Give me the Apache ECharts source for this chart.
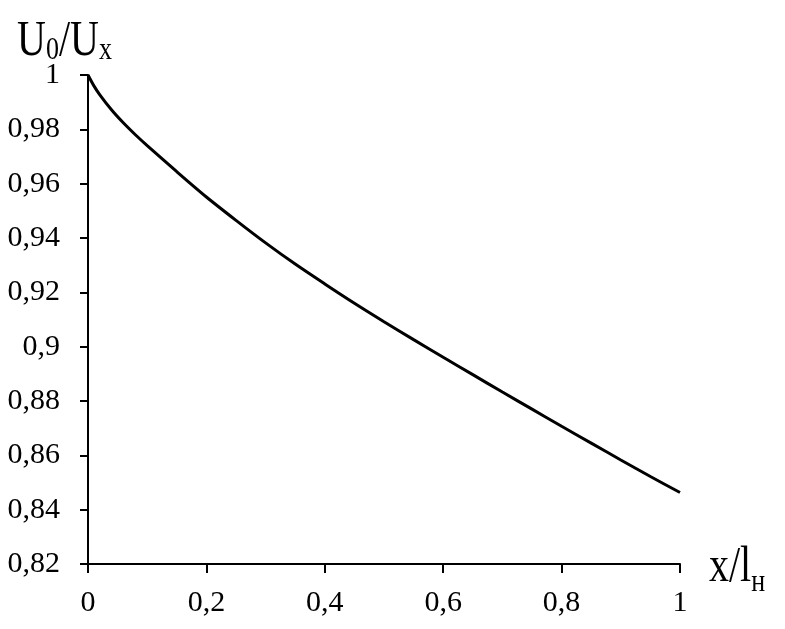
<!DOCTYPE html>
<html>
<head>
<meta charset="utf-8">
<script src="https://cdn.jsdelivr.net/npm/echarts@6/dist/echarts.min.js"></script>
<style>
html,body{margin:0;padding:0;background:#fff;}
#chart{width:785px;height:629px;}
</style>
</head>
<body>
<div id="chart"></div>
<script>
// x / l_н
var xValues = [0, 0.01, 0.02, 0.04, 0.06, 0.08, 0.1, 0.15, 0.2, 0.25, 0.3, 0.35, 0.4, 0.45, 0.5, 0.55, 0.6, 0.65, 0.7, 0.75, 0.8, 0.85, 0.9, 0.95, 1];
// U0 / Ux
var yValues = [1.0, 0.9960, 0.9927, 0.9871, 0.9823, 0.9780, 0.9740, 0.9644, 0.9551, 0.9465, 0.9382, 0.9304, 0.9231, 0.9160, 0.9092, 0.9026, 0.8961, 0.8897, 0.8833, 0.8770, 0.8707, 0.8645, 0.8583, 0.8522, 0.8463];
var xTicks = { min: 0, max: 1, interval: 0.2 };
var yTicks = { min: 0.82, max: 1, interval: 0.02 };
var yTitle = '{a|U}{b|0}{a|/U}{b|x}';
var xTitle = '{a|x/l}{b|н}';

var points = xValues.map(function (x, i) { return [x, yValues[i]]; });
function fmt(v) { return String(+v.toFixed(2)).replace('.', ','); }
var FONT = 'Liberation Serif';

var chart = echarts.init(document.getElementById('chart'), null, { renderer: 'canvas' });
chart.setOption({
  animation: false,
  backgroundColor: '#fff',
  grid: { left: 88, right: 105, top: 75, bottom: 65, outerBoundsMode: 'none' },
  xAxis: {
    type: 'value', min: xTicks.min, max: xTicks.max, interval: xTicks.interval,
    axisLine: { show: true, lineStyle: { color: '#000', width: 2 } },
    axisTick: { show: true, length: 9, lineStyle: { color: '#000', width: 2 } },
    splitLine: { show: false },
    axisLabel: { color: '#000', fontFamily: FONT, fontSize: 30, margin: 24, formatter: fmt }
  },
  yAxis: {
    type: 'value', min: yTicks.min, max: yTicks.max, interval: yTicks.interval,
    axisLine: { show: true, lineStyle: { color: '#000', width: 2 } },
    axisTick: { show: true, length: 8, lineStyle: { color: '#000', width: 2 } },
    splitLine: { show: false },
    axisLabel: { color: '#000', fontFamily: FONT, fontSize: 30, margin: 28, formatter: fmt }
  },
  series: [{
    type: 'line',
    data: points,
    smooth: 0.3,
    showSymbol: false,
    lineStyle: { color: '#000', width: 3 },
    itemStyle: { color: '#000' }
  }],
  graphic: [
    {
      type: 'text', x: 17, y: 67, scaleY: 1.25,
      style: {
        text: yTitle, align: 'left', verticalAlign: 'bottom', fill: '#000',
        rich: {
          a: { fontSize: 40, fontFamily: FONT, fill: '#000', verticalAlign: 'bottom' },
          b: { fontSize: 26, fontFamily: FONT, fill: '#000', verticalAlign: 'bottom' }
        }
      }
    },
    {
      type: 'text', x: 709, y: 599, scaleY: 1.25,
      style: {
        text: xTitle, align: 'left', verticalAlign: 'bottom', fill: '#000',
        rich: {
          a: { fontSize: 40, fontFamily: FONT, fill: '#000', verticalAlign: 'bottom', padding: [0, 0, 5, 0] },
          b: { fontSize: 26, fontFamily: FONT, fill: '#000', verticalAlign: 'bottom' }
        }
      }
    }
  ]
});
</script>
</body>
</html>
